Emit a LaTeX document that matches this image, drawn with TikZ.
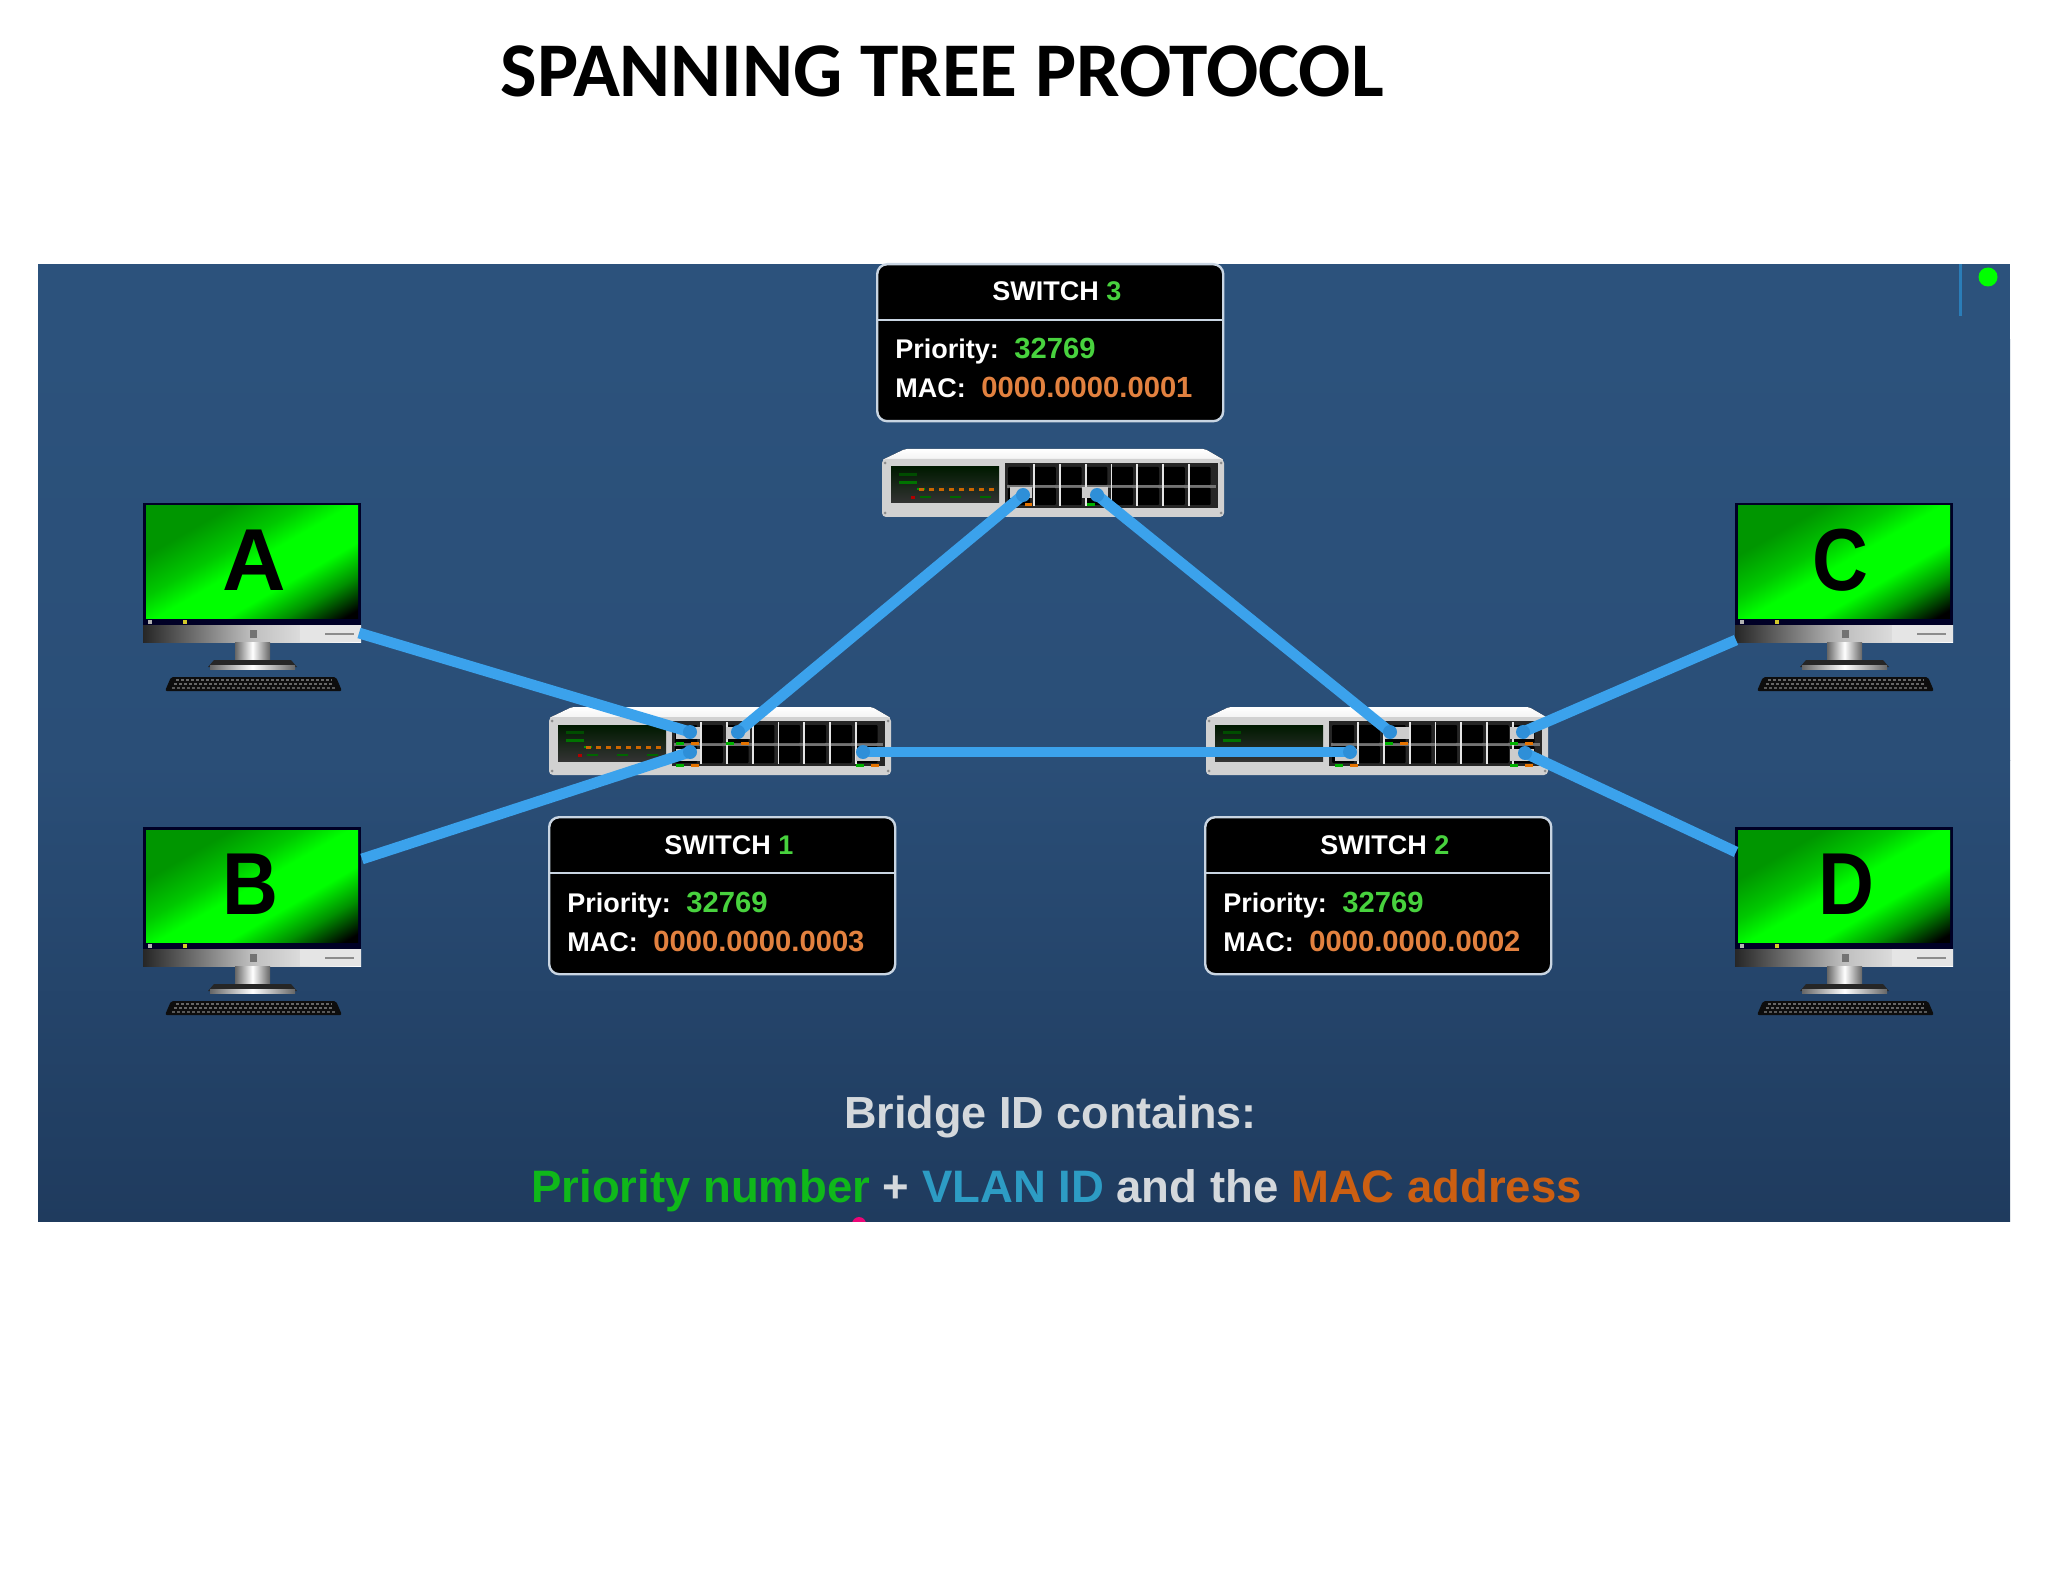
\documentclass[tikz,border=0pt]{standalone}
\usepackage{fontspec}
\setmainfont{Liberation Sans}
\newfontfamily\titlefont{Carlito}
\definecolor{linkblue}{HTML}{3BA2EC}
\definecolor{plugblue}{HTML}{2E8FD8}
\definecolor{bgtop}{HTML}{2C527C}
\definecolor{bgmid}{HTML}{2A4E77}
\definecolor{bgbot}{HTML}{1F3B5E}
\definecolor{valgreen}{HTML}{48D23E}
\definecolor{valorange}{HTML}{E2813F}
\definecolor{boxedge}{HTML}{C9D5E2}
\definecolor{txtgrey}{HTML}{D4D8DC}
\definecolor{prgreen}{HTML}{0FB81A}
\definecolor{vlanblue}{HTML}{2D9CC4}
\definecolor{macorange}{HTML}{CC5F12}
\definecolor{markblue}{HTML}{2A7DB8}
\definecolor{scrdark}{HTML}{009600}
\definecolor{scrmid}{HTML}{00C800}
\definecolor{scrfall}{HTML}{009000}
\pgfdeclarehorizontalshading{screenshade}{100bp}{color(0bp)=(scrdark);color(30bp)=(scrdark);color(42bp)=(scrmid);color(50bp)=(green);color(62bp)=(green);color(72bp)=(scrfall);color(82bp)=(black);color(100bp)=(black)}
\newcommand{\fsz}[1]{\fontsize{#1}{#1}\selectfont}
\tikzset{
  x=0.5pt,y=-0.5pt,
  link/.style={draw=linkblue,line width=5.4pt},
  plug/.style={fill=plugblue,circle,inner sep=0pt,minimum size=7pt},
  infobox/.style={draw=boxedge,line width=1.2pt,fill=black,rounded corners=5pt,minimum width=173pt,minimum height=78.5pt,inner sep=0pt,anchor=north west},
  boxtext/.style={anchor=base west,inner sep=0pt,font=\bfseries\fsz{13.5},text=white},
  boxval/.style={anchor=base west,inner sep=0pt,font=\bfseries\fsz{14.6}},
  port/.style={fill=black,rounded corners=0.5pt},
  letter/.style={anchor=base,inner sep=0pt,font=\bfseries\fsz{44},text=black},
  bottomtext/.style={anchor=base west,inner sep=0pt},
}
% switch drawn at the position of switch 3, shifted
\newcommand{\switchbody}[3]{%
\begin{scope}[shift={(#1,#2)}]
  \fill[rounded corners=1pt,top color=white,bottom color=black!5] (905,449) -- (1205,449) -- (1224,460) -- (882,460) -- cycle;
  \fill[rounded corners=2pt,black!18] (882,459) rectangle (1224,517);
  % display
  \fill[top color=black!90!green,bottom color=black!80] (891,467) rectangle (999,503);
  \fill[black!70!green] (899,473) rectangle (917,476);
  \fill[black!55!green] (899,481) rectangle (917,484);
  \fill[black!45] (885,463) circle (1.5);
  \fill[black!45] (1221,463) circle (1.5);
  \fill[black!45] (885,513) circle (1.5);
  \fill[black!45] (1221,513) circle (1.5);
  #3
  % ports
  \fill[black!85] (1005,463) rectangle (1218,508);
  \fill[black!55] (1007,485) rectangle (1216,488);
  \foreach \i in {0,...,7}{
    \fill[port] ({1008+25.8*\i},467) rectangle ++(22,18);
    \fill[port] ({1008+25.8*\i},488) rectangle ++(22,17);
  }
  \foreach \i in {1,...,7}{
    \fill[white!90!black] ({1007.3+25.8*\i},464) rectangle ++(1.8,42);
  }
\end{scope}}
\newcommand{\ledrow}{%
  \fill[green!60!black] (917,488) rectangle (925,490);
  \foreach \xx in {922,932,942,952,962,972,982,992}{\fill[orange!80!black] (\xx-3,488) rectangle (\xx+2,491);}
  \fill[red!70!black] (911,496) rectangle (915,499);
  \foreach \xx in {920,950,980}{\fill[green!40!black] (\xx,496) rectangle (\xx+11,498);}
}
\newcommand{\monitor}[2]{%
\begin{scope}[shift={(#1,#2)}]
  \fill[black!85!blue] (143,503) rectangle (361,626);
  \shade[shading=screenshade,shading angle=-60] (146,506) rectangle (358,618);
  \fill[left color=black!85,right color=white,middle color=black!25] (143,625) rectangle (361,642);
  \fill[black!10] (300,625) rectangle (361,642);
  \fill[white!70!black] (148,620) rectangle (152,624);
  \fill[yellow!80!black] (183,620) rectangle (187,624);
  \fill[black!55] (250,630) rectangle (257,638);
  \fill[black!45] (325,633) rectangle (354,635);
  \fill[left color=black!60,right color=black!60,middle color=white] (235,642) rectangle (270,660);
  \fill[black!85] (208,667) -- (214,660) -- (291,660) -- (297,667) -- cycle;
  \fill[left color=black!60,right color=black!60,middle color=white] (210,665) rectangle (295,669);
  \fill[black!95,rounded corners=1pt] (165,691) -- (171,677) -- (336,677) -- (342,691) -- cycle;
  \draw[black!60,line width=1pt,dash pattern=on 1.5pt off 1pt] (176,680) -- (332,680);
  \draw[black!60,line width=1pt,dash pattern=on 1.5pt off 1pt] (174,684) -- (334,684);
  \draw[black!65,line width=1pt,dash pattern=on 1.5pt off 1pt] (172,688) -- (336,688);
\end{scope}}
\begin{document}
\begin{tikzpicture}
\useasboundingbox (0,0) rectangle (2048,1582);
\fill[white] (0,0) rectangle (2048,1582);
\node[anchor=base west,inner sep=0pt,font=\titlefont\bfseries\fsz{38.7}] (title) at (500,97) {SPANNING TREE PROTOCOL};
% panel
\fill[bgtop] (38,264) rectangle (2010,340);
\fill[top color=bgtop,bottom color=bgmid] (38,340) rectangle (2010,760);
\fill[top color=bgmid,bottom color=bgbot] (38,760) rectangle (2010,1221);
\fill[markblue] (1958.5,264) rectangle (1961.5,316);
\fill[green] (1988,277) circle (9.5);
\begin{scope}
  \clip (840,1205) rectangle (880,1221);
  \fill[magenta!80!red] (859,1224) circle (7);
\end{scope}
% monitors
\monitor{0}{0}
\monitor{0}{324}
\monitor{1592}{0}
\monitor{1592}{324}
\node[letter] (la) at (254,590) {A};
\node[letter] (lb) at (250,914) {\scalebox{0.88}[1]{B}};
\node[letter] (lc) at (1840,590) {\scalebox{0.88}[1]{C}};
\node[letter] (ld) at (1846,914) {\scalebox{0.88}[1]{D}};
% switches
\switchbody{0}{0}{\ledrow}
\switchbody{-333}{258}{\ledrow}
\switchbody{324}{258}{\fill[black!55!green] (1082,482) rectangle (1092,485);}
% port activity
\fill[black!20] (1010,487) rectangle (1032,498);
\fill[black!20] (1082,487) rectangle (1108,498);
\fill[orange!90!black] (1025,503) rectangle (1032,506);
\fill[green!70!black] (1087,503) rectangle (1095,506);
\foreach \xx/\yy/\w in {676/735/24,676/757/24,726/735/24,856/757/24}{\fill[black!20] (\xx,\yy-8) rectangle ++(\w,12);
  \fill[green!70!black] (\xx,\yy+7) rectangle ++(8,3);\fill[orange!90!black] (\xx+15,\yy+7) rectangle ++(8,3);}
\foreach \xx/\yy/\w in {1335/757/24,1385/735/24,1510/735/24,1510/757/24}{\fill[black!20] (\xx,\yy-8) rectangle ++(\w,12);
  \fill[green!70!black] (\xx,\yy+7) rectangle ++(8,3);\fill[orange!90!black] (\xx+15,\yy+7) rectangle ++(8,3);}
% connector end points
\coordinate (monA) at (359,633);
\coordinate (monB) at (362,859);
\coordinate (monC) at (1736,640);
\coordinate (monD) at (1736,852);
\coordinate (s1a) at (690,732);
\coordinate (s1b) at (690,752);
\coordinate (s1c) at (738,732);
\coordinate (s1d) at (863,752);
\coordinate (s2a) at (1350,752);
\coordinate (s2b) at (1390,732);
\coordinate (s2c) at (1523,732);
\coordinate (s2d) at (1525,753);
\coordinate (s3a) at (1023,495);
\coordinate (s3b) at (1097,495);
\draw[link] (monA) -- (s1a);
\draw[link] (monB) -- (s1b);
\draw[link] (s1c) -- (s3a);
\draw[link] (s3b) -- (s2b);
\draw[link] (s1d) -- (s2a);
\draw[link] (monC) -- (s2c);
\draw[link] (monD) -- (s2d);
\foreach \p in {s1a,s1b,s1c,s1d,s2a,s2b,s2c,s2d,s3a,s3b}{\node[plug] at (\p) {};}
% info boxes
\node[infobox] (box3) at (876,263) {};
\node[infobox] (box1) at (548,816) {};
\node[infobox] (box2) at (1204,816) {};
\draw[boxedge,line width=1.2pt] (876,320) -- (1223,320);
\draw[boxedge,line width=1.2pt] (548,873) -- (895,873);
\draw[boxedge,line width=1.2pt] (1204,873) -- (1551,873);
% box 3
\node[boxtext] (t3) at (992,301) {SWITCH \textcolor{valgreen}{3}};
\node[boxtext] (p3) at (895,359) {Priority:};
\node[boxval,text=valgreen] (pv3) at (1014,359) {32769};
\node[boxtext] (m3) at (895,398) {MAC:};
\node[boxval,text=valorange] (mv3) at (981,398) {0000.0000.0001};
% box 1
\node[boxtext] (t1) at (664,854) {SWITCH \textcolor{valgreen}{1}};
\node[boxtext] (p1) at (567,912) {Priority:};
\node[boxval,text=valgreen] (pv1) at (686,912) {32769};
\node[boxtext] (m1) at (567,951) {MAC:};
\node[boxval,text=valorange] (mv1) at (653,951) {0000.0000.0003};
% box 2
\node[boxtext] (t2) at (1320,854) {SWITCH \textcolor{valgreen}{2}};
\node[boxtext] (p2) at (1223,912) {Priority:};
\node[boxval,text=valgreen] (pv2) at (1342,912) {32769};
\node[boxtext] (m2) at (1223,951) {MAC:};
\node[boxval,text=valorange] (mv2) at (1309,951) {0000.0000.0002};
% bottom
\node[bottomtext,font=\bfseries\fsz{22.5},text=txtgrey] (bid) at (844,1128) {Bridge ID contains:};
\node[bottomtext,font=\bfseries\fsz{22.75}] (line) at (531,1202) {\textcolor{prgreen}{Priority number} \textcolor{txtgrey}{+} \textcolor{vlanblue}{VLAN ID} \textcolor{txtgrey}{and the} \textcolor{macorange}{MAC address}};
\end{tikzpicture}
\end{document}
